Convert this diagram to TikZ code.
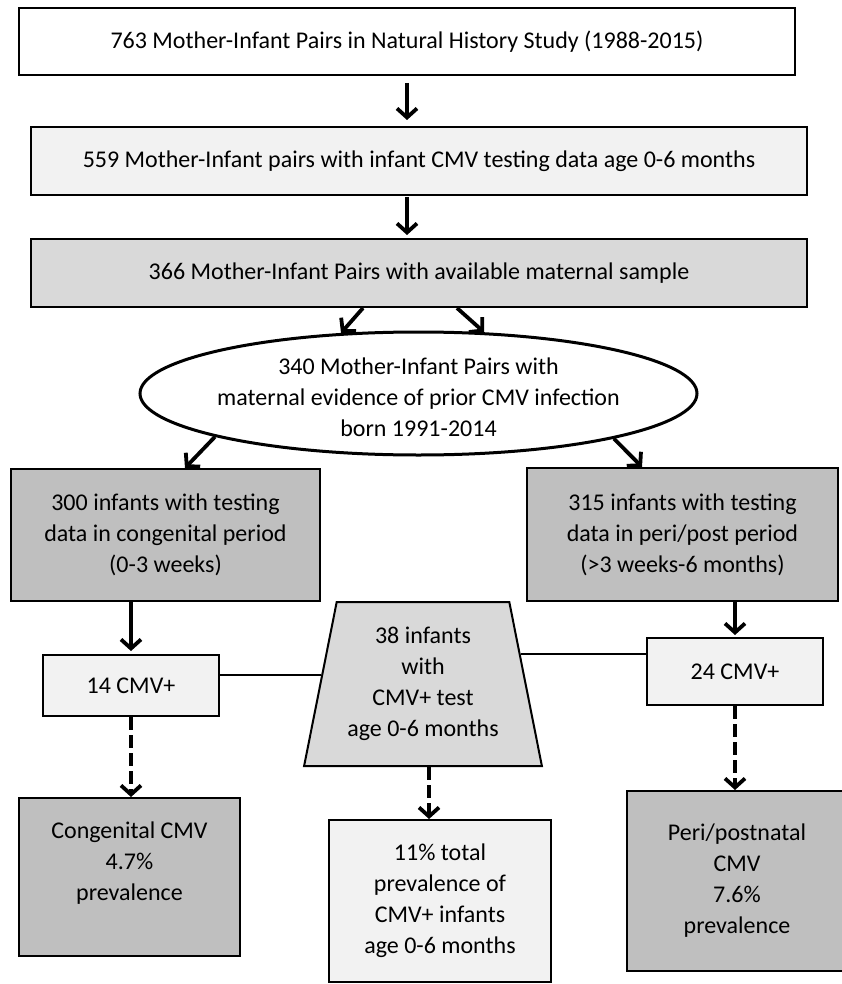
\documentclass[tikz,border=0pt]{standalone}
\usepackage{fontspec}
\setmainfont{Carlito}
\usetikzlibrary{shapes.geometric,arrows.meta,calc}
\definecolor{paleg}{HTML}{F2F2F2}
\definecolor{midg}{HTML}{D9D9D9}
\definecolor{darkg}{HTML}{BFBFBF}
\tikzset{
  txt/.style={align=center,inner sep=2pt,font=\fontsize{24}{31}\selectfont},
  box/.style={txt,draw,line width=2pt,rectangle},
  arr/.style={line width=3.8pt,-{Straight Barb[length=9pt,width=20pt]}},
  darr/.style={arr,dash pattern=on 13pt off 5pt},
  conn/.style={line width=1.5pt}
}

\begin{document}
\begin{tikzpicture}[x=1pt,y=-1pt]
  \useasboundingbox (0,0) rectangle (841,984);
  \node[box,fill=white,minimum width=776pt,minimum height=67pt] (b1) at (407,41.5)
    {763 Mother-Infant Pairs in Natural History Study (1988-2015)};
  \node[box,fill=paleg,minimum width=776pt,minimum height=68pt] (b2) at (419,161)
    {559 Mother-Infant pairs with infant CMV testing data age 0-6 months};
  \node[box,fill=midg,minimum width=776pt,minimum height=68pt] (b3) at (419,273)
    {366 Mother-Infant Pairs with available maternal sample};
  \node[draw,ellipse,line width=3pt,fill=white,minimum width=557pt,minimum height=123pt] (ell) at (418.5,393.5) {};
  \node[txt] (elltxt) at ($(ell.center)+(0,4)$)
    {340 Mother-Infant Pairs with\\maternal evidence of prior CMV infection\\born 1991-2014};
  \node[box,fill=darkg,minimum width=309pt,minimum height=132pt] (l1) at (165.5,535)
    {300 infants with testing\\data in congenital period\\(0-3 weeks)};
  \node[box,fill=darkg,minimum width=311pt,minimum height=133pt] (r1) at (682.5,534.5)
    {315 infants with testing\\data in peri/post period\\(>3 weeks-6 months)};
  \node[box,fill=paleg,minimum width=176pt,minimum height=61pt] (l2) at (131,685.5) {14 CMV+};
  \node[box,fill=paleg,minimum width=176pt,minimum height=67pt] (r2) at (735,671.5) {24 CMV+};
  \node[box,trapezium,trapezium left angle=76,trapezium right angle=76,trapezium stretches=true,
        fill=midg,minimum width=238pt,minimum height=164pt] (trap) at (423,684)
    {38 infants\\with\\CMV+ test\\age 0-6 months};
  \node[box,fill=darkg,minimum width=221pt,minimum height=158pt] (l3) at (129.5,877)
    {Congenital CMV\\4.7\%\\prevalence\\\mbox{}};
  \node[box,fill=paleg,minimum width=222pt,minimum height=162pt] (c3) at (440,901)
    {11\% total\\prevalence of\\CMV+ infants\\age 0-6 months};
  \node[box,fill=darkg,minimum width=220pt,minimum height=180pt] (r3) at (737,881)
    {Peri/postnatal\\CMV\\7.6\%\\prevalence};
  \coordinate (tb) at ($(trap.south)+(6,0)$);

  \draw[conn] (trap.175) -- (trap.175 -| l2.east);
  \draw[conn] (trap.17) -- (trap.17 -| r2.west);

  \begin{scope}[arr]
    \draw[shorten <=7pt,shorten >=6pt] (b1.south) -- (b1.south |- b2.north);
    \draw[shorten <=1pt,shorten >=3pt] (b1.south |- b2.south) -- (b1.south |- b3.north);
    \draw ($(b3.south)+(-56,0)$) -- (ell.142);
    \draw ($(b3.south)+(38,0)$) -- (ell.43);
    \draw (ell.192) -- ($(l1.north)+(19.5,0)$);
    \draw (ell.347) -- ($(r1.north)+(-40.5,0)$);
    \draw[shorten >=3pt] (l2.north |- l1.south) -- (l2.north);
    \draw[shorten >=2pt] (r2.north |- r1.south) -- (r2.north);
  \end{scope}
  \begin{scope}[darr]
    \draw (l2.south) -- (l2.south |- l3.north);
    \draw (tb) -- (tb |- c3.north);
    \draw (r2.south) -- (r2.south |- r3.north);
  \end{scope}
\end{tikzpicture}
\end{document}
